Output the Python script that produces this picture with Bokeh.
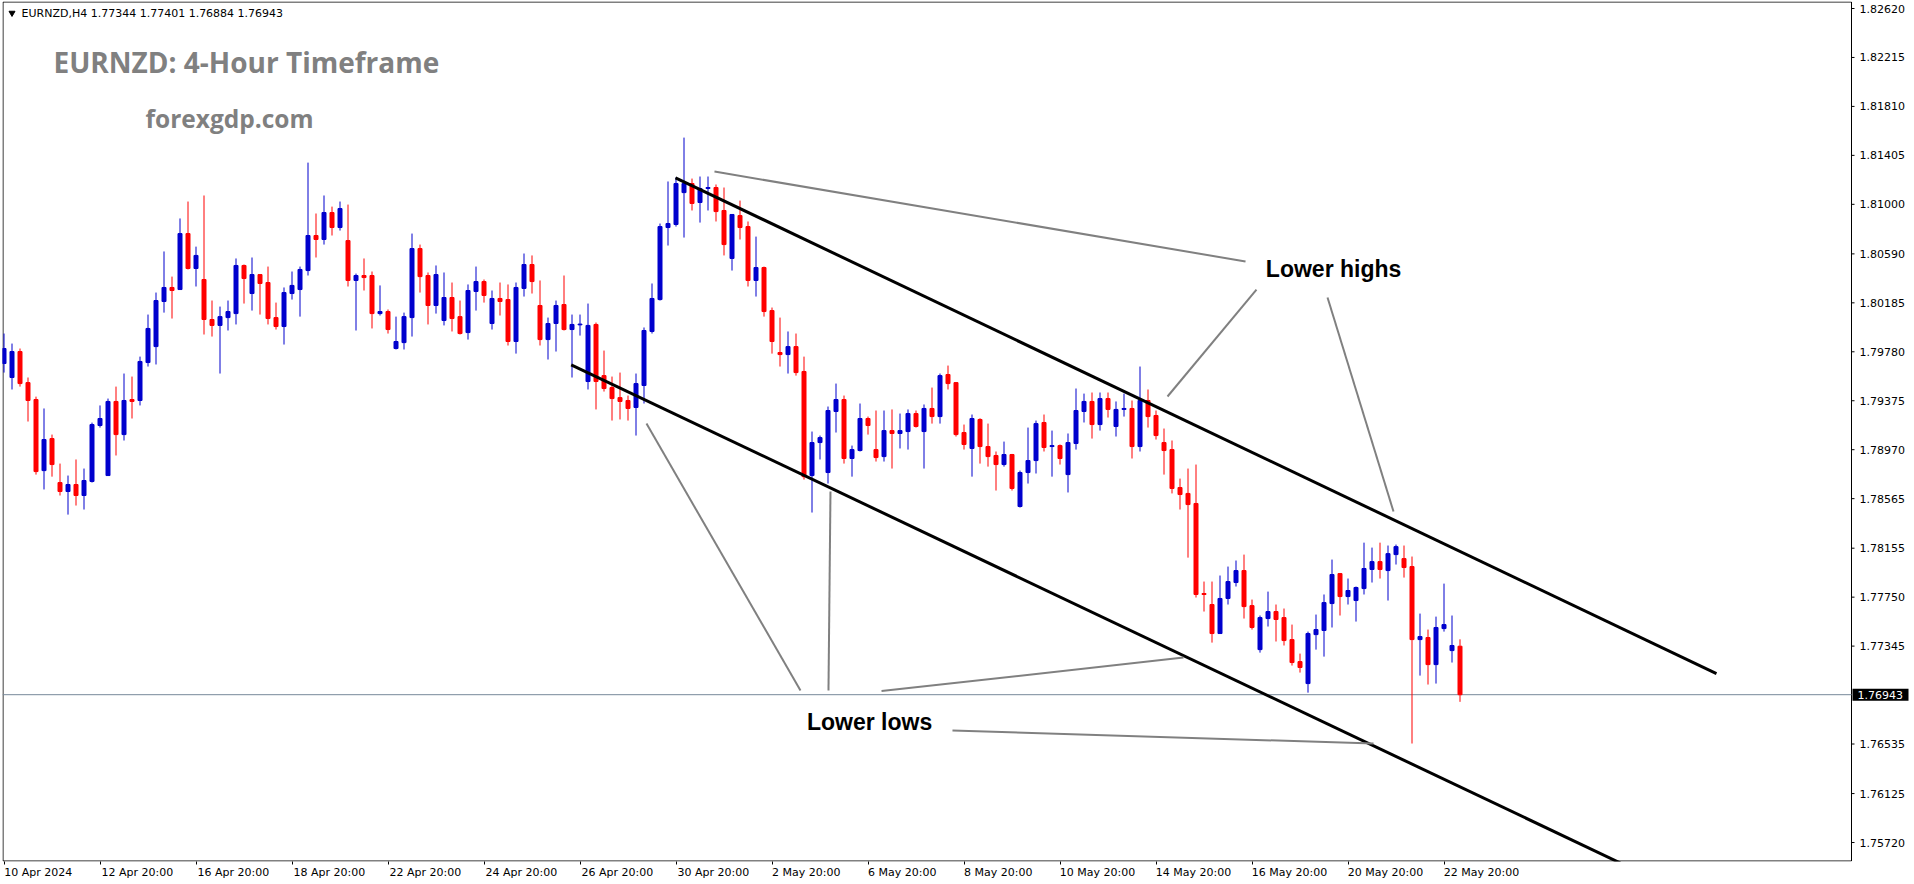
from bokeh.plotting import figure
from bokeh.models import Range1d, FixedTicker, ColumnDataSource
from bokeh.core.properties import value
from bokeh.embed import file_html
from bokeh.resources import INLINE

# ---------------- data (EURNZD H4) ----------------
open_ = [
1.79683, 1.79567, 1.79782, 1.79525, 1.79385, 1.78797, 1.79062, 1.78698, 1.78624, 1.78682,
1.78591, 1.78707, 1.79170, 1.78756, 1.79369, 1.79095, 1.79385, 1.79377, 1.79691, 1.79823,
1.80196, 1.80312, 1.80295, 1.80758, 1.80469, 1.80378, 1.80047, 1.79998, 1.80063, 1.80096,
1.80494, 1.80262, 1.80419, 1.80353, 1.80063, 1.79989, 1.80262, 1.80295, 1.80452, 1.80742,
1.80709, 1.80932, 1.80808, 1.80700, 1.80370, 1.80411, 1.80411, 1.80096, 1.80113, 1.79807,
1.79856, 1.80063, 1.80634, 1.80411, 1.80163, 1.80039, 1.80229, 1.80071, 1.79939, 1.80279,
1.80361, 1.80014, 1.80221, 1.80212, 1.79865, 1.80304, 1.80502, 1.80163, 1.79881, 1.80014,
1.80171, 1.79964, 1.80003, 1.79534, 1.80006, 1.79583, 1.79484, 1.79401, 1.79377, 1.79319,
1.79501, 1.79948, 1.80212, 1.80808, 1.80833, 1.81097, 1.81172, 1.81015, 1.81131, 1.81139,
1.80949, 1.80552, 1.80907, 1.80816, 1.80370, 1.80477, 1.80121, 1.79774, 1.79757, 1.79823,
1.79617, 1.78756, 1.79029, 1.78781, 1.79286, 1.79385, 1.78897, 1.78963, 1.79228, 1.78971,
1.78913, 1.79128, 1.79104, 1.79120, 1.79269, 1.79120, 1.79311, 1.79244, 1.79592, 1.79525,
1.79112, 1.78980, 1.79220, 1.78996, 1.78922, 1.78847, 1.78930, 1.78500, 1.78781, 1.78880,
1.79195, 1.78996, 1.79004, 1.78764, 1.79021, 1.79286, 1.79369, 1.79178, 1.79393, 1.79162,
1.79303, 1.79311, 1.78996, 1.79377, 1.79253, 1.79029, 1.78971, 1.78657, 1.78608, 1.78525,
1.77780, 1.77689, 1.77449, 1.77739, 1.77871, 1.77970, 1.77680, 1.77316, 1.77573, 1.77631,
1.77581, 1.77399, 1.77217, 1.77035, 1.77440, 1.77474, 1.77697, 1.77945, 1.77755, 1.77722,
1.77821, 1.77979, 1.78044, 1.77970, 1.78102, 1.78069, 1.78003, 1.77399, 1.77416, 1.77192,
1.77490, 1.77308, 1.77344]

high = [
1.79931, 1.79848, 1.79807, 1.79567, 1.79409, 1.79311, 1.79095, 1.78855, 1.78756, 1.78889,
1.78814, 1.79194, 1.79336, 1.79393, 1.79492, 1.79600, 1.79575, 1.79740, 1.80088, 1.80270,
1.80610, 1.80402, 1.80883, 1.81023, 1.80650, 1.81073, 1.80204, 1.80154, 1.80204, 1.80552,
1.80502, 1.80560, 1.80419, 1.80485, 1.80187, 1.80312, 1.80444, 1.80485, 1.81345, 1.80924,
1.81073, 1.80981, 1.81023, 1.80998, 1.80427, 1.80552, 1.80444, 1.80329, 1.80130, 1.80071,
1.80104, 1.80758, 1.80667, 1.80436, 1.80494, 1.80436, 1.80353, 1.80204, 1.80337, 1.80485,
1.80378, 1.80287, 1.80353, 1.80337, 1.80353, 1.80593, 1.80577, 1.80370, 1.80063, 1.80204,
1.80411, 1.80088, 1.80088, 1.80179, 1.80022, 1.79790, 1.79575, 1.79608, 1.79418, 1.79600,
1.79981, 1.80345, 1.80841, 1.81189, 1.81222, 1.81552, 1.81213, 1.81230, 1.81230, 1.81164,
1.81139, 1.80920, 1.81031, 1.80858, 1.80733, 1.80485, 1.80146, 1.80063, 1.79948, 1.79931,
1.79740, 1.79120, 1.79087, 1.79327, 1.79517, 1.79418, 1.79004, 1.79352, 1.79244, 1.79294,
1.79294, 1.79303, 1.79269, 1.79303, 1.79294, 1.79344, 1.79484, 1.79600, 1.79666, 1.79530,
1.79178, 1.79261, 1.79230, 1.79186, 1.78955, 1.79037, 1.78935, 1.78797, 1.79153, 1.79211,
1.79261, 1.79128, 1.79013, 1.79104, 1.79476, 1.79434, 1.79443, 1.79443, 1.79443, 1.79369,
1.79434, 1.79377, 1.79658, 1.79468, 1.79294, 1.79145, 1.79046, 1.78731, 1.78814, 1.78847,
1.77879, 1.77879, 1.77929, 1.78003, 1.78053, 1.78102, 1.77730, 1.77598, 1.77796, 1.77689,
1.77656, 1.77523, 1.77283, 1.77465, 1.77606, 1.77772, 1.78061, 1.77950, 1.77904, 1.77838,
1.78201, 1.78160, 1.78201, 1.78177, 1.78185, 1.78177, 1.78086, 1.77614, 1.77482, 1.77589,
1.77862, 1.77598, 1.77401]

low = [
1.79608, 1.79468, 1.79492, 1.79203, 1.78764, 1.78641, 1.78747, 1.78591, 1.78433, 1.78508,
1.78475, 1.78698, 1.79153, 1.78756, 1.78922, 1.79046, 1.79228, 1.79336, 1.79658, 1.79675,
1.80104, 1.80055, 1.80295, 1.80461, 1.80320, 1.79923, 1.79906, 1.79600, 1.79956, 1.80006,
1.80179, 1.80121, 1.80088, 1.80006, 1.79964, 1.79840, 1.80212, 1.80071, 1.80411, 1.80560,
1.80667, 1.80742, 1.80783, 1.80320, 1.79956, 1.80287, 1.79973, 1.80080, 1.79931, 1.79799,
1.79799, 1.79906, 1.80270, 1.80006, 1.80096, 1.79998, 1.79948, 1.79923, 1.79881, 1.80121,
1.80187, 1.79964, 1.80080, 1.79832, 1.79765, 1.80237, 1.80262, 1.79832, 1.79716, 1.79782,
1.79956, 1.79567, 1.79914, 1.79468, 1.79303, 1.79451, 1.79211, 1.79220, 1.79211, 1.79087,
1.79352, 1.79931, 1.80204, 1.80659, 1.80816, 1.80725, 1.80949, 1.80849, 1.80949, 1.80858,
1.80577, 1.80452, 1.80709, 1.80320, 1.80237, 1.80071, 1.79765, 1.79658, 1.79600, 1.79583,
1.78723, 1.78450, 1.78889, 1.78690, 1.79112, 1.78855, 1.78747, 1.78955, 1.79095, 1.78872,
1.78872, 1.78814, 1.78980, 1.78971, 1.79153, 1.78814, 1.79186, 1.79186, 1.79468, 1.79079,
1.78971, 1.78747, 1.78855, 1.78830, 1.78632, 1.78830, 1.78632, 1.78491, 1.78690, 1.78773,
1.78955, 1.78747, 1.78847, 1.78616, 1.78971, 1.79195, 1.79062, 1.79128, 1.79236, 1.79079,
1.79244, 1.78897, 1.78955, 1.79153, 1.79054, 1.78764, 1.78608, 1.78475, 1.78077, 1.77747,
1.77631, 1.77374, 1.77449, 1.77689, 1.77838, 1.77573, 1.77482, 1.77291, 1.77507, 1.77383,
1.77350, 1.77184, 1.77126, 1.76960, 1.77316, 1.77258, 1.77499, 1.77598, 1.77689, 1.77548,
1.77772, 1.77871, 1.77904, 1.77722, 1.78020, 1.77912, 1.76539, 1.77101, 1.77027, 1.77035,
1.77465, 1.77209, 1.76884]

close = [
1.79807, 1.79782, 1.79517, 1.79377, 1.78789, 1.79054, 1.78847, 1.78624, 1.78682, 1.78591,
1.78715, 1.79178, 1.79228, 1.79369, 1.79095, 1.79377, 1.79369, 1.79700, 1.79973, 1.80204,
1.80312, 1.80287, 1.80758, 1.80469, 1.80577, 1.80047, 1.79998, 1.80071, 1.80113, 1.80494,
1.80386, 1.80419, 1.80345, 1.80055, 1.79989, 1.80270, 1.80329, 1.80461, 1.80742, 1.80709,
1.80932, 1.80808, 1.80965, 1.80370, 1.80411, 1.80394, 1.80096, 1.80113, 1.79964, 1.79865,
1.80071, 1.80634, 1.80402, 1.80163, 1.80419, 1.80229, 1.80055, 1.79931, 1.80287, 1.80361,
1.80246, 1.80221, 1.80196, 1.79865, 1.80312, 1.80502, 1.80361, 1.79881, 1.80014, 1.80163,
1.79964, 1.80006, 1.80009, 1.79998, 1.79534, 1.79476, 1.79393, 1.79369, 1.79311, 1.79517,
1.79956, 1.80221, 1.80816, 1.80841, 1.81172, 1.81172, 1.81007, 1.81131, 1.81139, 1.80940,
1.80667, 1.80916, 1.80808, 1.80370, 1.80477, 1.80113, 1.79865, 1.79757, 1.79823, 1.79608,
1.78747, 1.79029, 1.79070, 1.79294, 1.79385, 1.78897, 1.78971, 1.79228, 1.79170, 1.78905,
1.79128, 1.79104, 1.79128, 1.79269, 1.79162, 1.79311, 1.79244, 1.79583, 1.79517, 1.79095,
1.79013, 1.79228, 1.78996, 1.78913, 1.78847, 1.78930, 1.78649, 1.78781, 1.78880, 1.79186,
1.78988, 1.79004, 1.78897, 1.79029, 1.79294, 1.79369, 1.79178, 1.79393, 1.79303, 1.79303,
1.79311, 1.78996, 1.79377, 1.79244, 1.79087, 1.78963, 1.78649, 1.78599, 1.78516, 1.77772,
1.77772, 1.77449, 1.77739, 1.77879, 1.77970, 1.77672, 1.77499, 1.77581, 1.77631, 1.77565,
1.77391, 1.77209, 1.77168, 1.77449, 1.77482, 1.77705, 1.77937, 1.77755, 1.77805, 1.77830,
1.77987, 1.78044, 1.77979, 1.78110, 1.78168, 1.77995, 1.77399, 1.77424, 1.77192, 1.77499,
1.77523, 1.77350, 1.76943]

# time-axis labels (bar index -> label)
date_ticks = [0, 12, 24, 36, 48, 60, 72, 84, 96, 108, 120, 132, 144, 156, 168, 180]
date_labels = ["10 Apr 2024", "12 Apr 20:00", "16 Apr 20:00", "18 Apr 20:00", "22 Apr 20:00",
               "24 Apr 20:00", "26 Apr 20:00", "30 Apr 20:00", "2 May 20:00", "6 May 20:00",
               "8 May 20:00", "10 May 20:00", "14 May 20:00", "16 May 20:00", "20 May 20:00",
               "22 May 20:00"]
price_ticks = [1.82620, 1.82215, 1.81810, 1.81405, 1.81000, 1.80590, 1.80185, 1.79780,
               1.79375, 1.78970, 1.78565, 1.78155, 1.77750, 1.77345, 1.76535, 1.76125, 1.75720]
last_price = 1.76943

# trend lines drawn on the chart (bar index, price)
channel_x = [[83.94, 214.06], [70.9, 202.06]]
channel_y = [[1.81219, 1.77118], [1.79672, 1.75550]]
pointer_x = [[88.81, 155.19], [145.44, 156.56], [165.44, 173.69],
             [80.31, 99.56], [103.31, 103.06], [109.69, 147.44], [118.56, 171.19]]
pointer_y = [[1.81271, 1.80527], [1.79410, 1.80295], [1.80229, 1.78458],
             [1.79186, 1.76977], [1.78624, 1.76977], [1.76973, 1.77250], [1.76646, 1.76539]]
note_text = ["Lower highs", "Lower lows"]
note_x = [166.2, 108.2]
note_y = [1.80464, 1.76717]

# ---------------- figure ----------------
FW, FH = 1910, 860
X0, X1 = -0.1875, 238.5625          # bars; 8 px per bar
Y0, Y1 = 1.75563, 1.82678           # price
AXIS_X = 230.9375                   # price scale line (MT4 style, inside the canvas)
px_x = (X1 - X0) / FW
px_y = (Y1 - Y0) / FH

p = figure(frame_width=FW, frame_height=FH,
           x_range=Range1d(X0, X1), y_range=Range1d(Y0, Y1),
           y_axis_location=None, output_backend="svg", toolbar_location=None,
           min_border_left=2, min_border_top=1, min_border_right=0, min_border_bottom=0,
           background_fill_color="white", border_fill_color="white",
           outline_line_color=None)
p.xgrid.visible = False
p.ygrid.visible = False

xa = p.xaxis[0]
label_pos = [t + 0.39 * len(l) for t, l in zip(date_ticks, date_labels)]
xa.ticker = FixedTicker(ticks=label_pos, minor_ticks=date_ticks)
xa.major_label_overrides = {t: l for t, l in zip(label_pos, date_labels)}
xa.major_label_text_font = "DejaVu Sans"
xa.major_label_text_font_size = "11px"
xa.major_label_text_color = "black"
xa.axis_line_color = None
xa.major_tick_line_color = None
xa.minor_tick_line_color = "black"
xa.major_tick_in = 0
xa.minor_tick_in = 0
xa.major_tick_out = 3
xa.minor_tick_out = 3
xa.major_label_standoff = 1

# chart border and price scale line
bx0 = X0 + 0.5 * px_x
by0 = Y0 + 0.5 * px_y
by1 = Y1 - 0.5 * px_y
p.segment(x0=[bx0, bx0, bx0, AXIS_X], y0=[by0, by1, by0, by0],
          x1=[bx0, AXIS_X, AXIS_X, AXIS_X], y1=[by1, by1, by0, by1],
          line_color="black", line_width=1)
# price scale ticks and labels
p.segment(x0=[AXIS_X] * len(price_ticks), y0=price_ticks,
          x1=[AXIS_X + 3 * px_x] * len(price_ticks), y1=price_ticks,
          line_color="black", line_width=1)
p.text(x=[AXIS_X + 8 * px_x] * len(price_ticks), y=price_ticks,
       text=["%.5f" % v for v in price_ticks], text_font=value("DejaVu Sans"),
       text_font_size="11px", text_color="black", text_align="left", text_baseline="middle")

# current bid line
p.segment(x0=[X0], y0=[last_price], x1=[AXIS_X], y1=[last_price],
          line_color="#778899", line_width=1)

# candles
n = len(close)
xs = list(range(n))
colors = ["#0000CD" if c >= o else "#FF0000" for o, c in zip(open_, close)]
src = ColumnDataSource(dict(
    x=xs, high=high, low=low,
    top=[max(o, c) for o, c in zip(open_, close)],
    bottom=[min(o, c) for o, c in zip(open_, close)],
    color=colors))
p.segment(x0="x", y0="low", x1="x", y1="high", source=src, line_color="color", line_width=1)
p.vbar(x="x", width=0.5, top="top", bottom="bottom", source=src,
       fill_color="color", line_color="color", line_width=1)

# trend lines
p.multi_line(xs=channel_x, ys=channel_y, line_color="black", line_width=3)
p.multi_line(xs=pointer_x, ys=pointer_y, line_color="#808080", line_width=2)
p.text(x=note_x, y=note_y, text=note_text, text_font=value("Liberation Sans"),
       text_font_style="bold", text_font_size="23px", text_color="black",
       text_align="center", text_baseline="middle")

# header texts
p.scatter(x=[1.0], y=[1.82583], marker="inverted_triangle", size=6, color="black")
p.text(x=[2.19], y=[1.82581], text=["EURNZD,H4  1.77344 1.77401 1.76884 1.76943"],
       text_font=value("DejaVu Sans"), text_font_size="11px", text_color="black",
       text_align="left", text_baseline="middle")
p.text(x=[6.19], y=[1.82176], text=["EURNZD: 4-Hour Timeframe"],
       text_font=value("Open Sans"), text_font_style="bold", text_font_size="28px",
       text_color="#808080", text_align="left", text_baseline="alphabetic")
p.text(x=[17.69], y=[1.81708], text=["forexgdp.com"],
       text_font=value("Open Sans"), text_font_style="bold", text_font_size="24.5px",
       text_color="#808080", text_align="left", text_baseline="alphabetic")

# current price box on the price scale
p.quad(left=[AXIS_X + 1 * px_x], right=[AXIS_X + 57 * px_x],
       bottom=[last_price - 6 * px_y], top=[last_price + 6 * px_y],
       fill_color="black", line_color=None)
p.text(x=[AXIS_X + 6 * px_x], y=[last_price], text=["%.5f" % last_price],
       text_font=value("DejaVu Sans"), text_font_size="11px", text_color="white",
       text_align="left", text_baseline="middle")

open("out.html", "w").write(file_html(p, INLINE))
